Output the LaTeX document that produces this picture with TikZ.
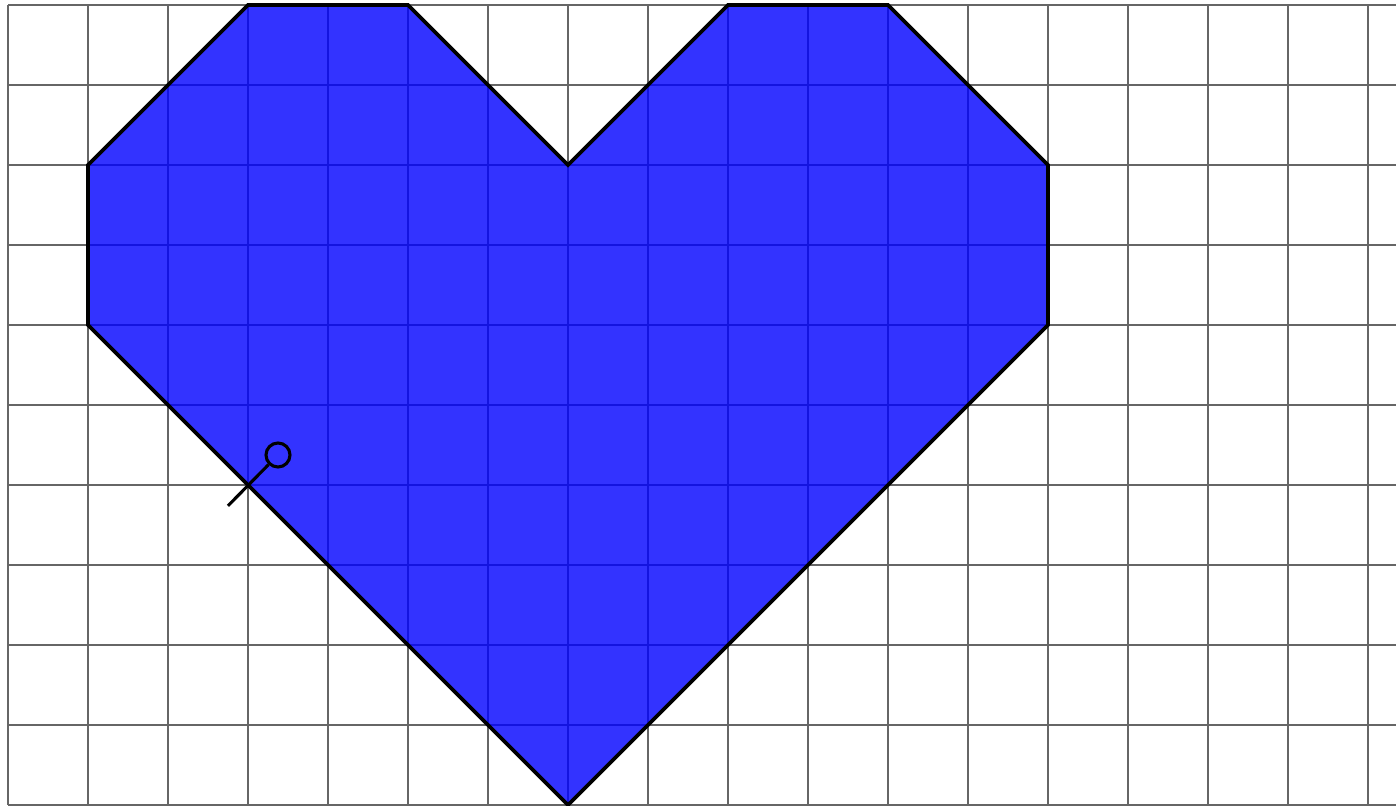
\documentclass[tikz,border=0pt]{standalone}
\begin{document}
\begin{tikzpicture}[
  gridline/.style={draw=black!60, line width=0.85pt},
  heartfill/.style={fill=blue, fill opacity=0.8, draw=black, draw opacity=1, line width=1.3pt, line join=miter},
  pinline/.style={draw=black, line width=1.1pt}
]
\useasboundingbox (-0.1,-0.0125) rectangle (17.35,10.0625);
\draw[gridline] (0,0) grid[step=1] (17.35,10);
\draw[gridline] (0,0) -- (17.35,0);
\path[heartfill] (3,10) -- (5,10) -- (7,8) -- (9,10) -- (11,10) -- (13,8) -- (13,6) -- (7,0) -- (1,6) -- (1,8) -- cycle;
\coordinate (pa) at (2.75,3.74);
\node[circle, draw=black, line width=1.1pt, minimum size=0.3cm, inner sep=0pt] (pc) at (3.375,4.375) {};
\draw[pinline] (pa) -- (pc);
\end{tikzpicture}
\end{document}
